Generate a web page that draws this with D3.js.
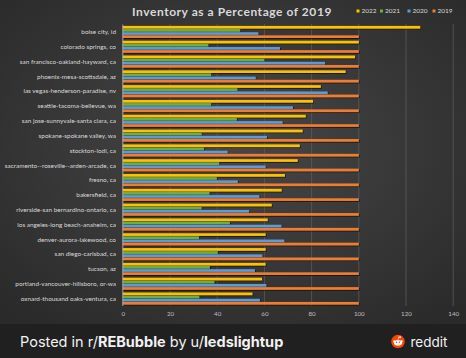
<!DOCTYPE html>
<html><head><meta charset="utf-8">
<script src="https://cdn.jsdelivr.net/npm/d3@7"></script>
<style>html,body{margin:0;padding:0;background:#222;}svg{display:block;}</style>
</head><body>
<svg id="chart" width="466" height="358"></svg>
<script>
const categories = ["boise city, id","colorado springs, co","san francisco-oakland-hayward, ca","phoenix-mesa-scottsdale, az","las vegas-henderson-paradise, nv","seattle-tacoma-bellevue, wa","san jose-sunnyvale-santa clara, ca","spokane-spokane valley, wa","stockton-lodi, ca","sacramento--roseville--arden-arcade, ca","fresno, ca","bakersfield, ca","riverside-san bernardino-ontario, ca","los angeles-long beach-anaheim, ca","denver-aurora-lakewood, co","san diego-carlsbad, ca","tucson, az","portland-vancouver-hillsboro, or-wa","oxnard-thousand oaks-ventura, ca"];
const seriesNames = ["2022","2021","2020","2019"];
const v2022 = [126,100,98.4,94.4,83.9,80.6,77.5,76.2,75,74.1,68.7,67.3,63.1,61.4,60.5,60.5,60.5,59,54.9];
const v2021 = [49.7,36.2,59.9,37.4,48.5,37.4,48.3,33.4,34.4,40.8,39.8,36.7,33.4,45.4,32.3,40.2,36.9,38.8,32.4];
const v2020 = [57.4,66.6,85.7,56.3,86.8,72.1,67.7,61.1,44.4,60.5,48.7,57.8,53.5,67.2,68.4,59.1,56,60.8,58.1];
const v2019 = [100,100,100,100,100,100,100,100,100,100,100,100,100,100,100,100,100,100,100];
const xTicks = [0,20,40,60,80,100,120,140];
const colors = ["#FFC000","#70AD47","#5B9BD5","#ED7D31"];
const title = "Inventory as a Percentage of 2019";

const values = [v2022, v2021, v2020, v2019];
const svg = d3.select("#chart");
const W = 466, H = 358;
const defs = svg.append("defs");
const rg = defs.append("radialGradient").attr("id","bg").attr("cx","50%").attr("cy","45%").attr("r","70%");
rg.append("stop").attr("offset","0%").attr("stop-color","#474747");
rg.append("stop").attr("offset","100%").attr("stop-color","#2a2a2a");
const f = defs.append("filter").attr("id","sh").attr("x","-5%").attr("y","-50%").attr("width","110%").attr("height","250%");
f.append("feDropShadow").attr("dx",0.8).attr("dy",0.8).attr("stdDeviation",0.5).attr("flood-color","#000").attr("flood-opacity",0.7);

svg.append("rect").attr("width",W).attr("height",324).attr("fill","url(#bg)");
svg.append("rect").attr("y",324).attr("width",W).attr("height",H-324).attr("fill","#202020");

const x = d3.scaleLinear().domain([0,140]).range([122.8,453.2]);
const y = d3.scaleBand().domain(categories).range([24.6,306]).paddingInner(0.15).paddingOuter(0.075);
const ys = d3.scaleBand().domain(seriesNames).range([0,y.bandwidth()]);

// gridlines
svg.append("g").selectAll("line").data(xTicks.slice(1)).join("line")
  .attr("x1",d=>x(d)).attr("x2",d=>x(d)).attr("y1",24).attr("y2",306)
  .attr("stroke","#5a5a5a").attr("stroke-width",0.8);

// bars
const g = svg.append("g").attr("filter","url(#sh)");
categories.forEach((c,i)=>{
  seriesNames.forEach((s,j)=>{
    g.append("rect").attr("x",x(0)).attr("y",y(c)+ys(s)+0.2)
      .attr("width",x(values[j][i])-x(0)).attr("height",ys.bandwidth()-0.5)
      .attr("fill",colors[j]);
  });
});

// category axis line
svg.append("line").attr("x1",x(0)).attr("x2",x(0)).attr("y1",24.6).attr("y2",306)
  .attr("stroke","#bfbfbf").attr("stroke-width",0.8);

// category labels
svg.append("g").selectAll("text").data(categories).join("text")
  .attr("x",116).attr("y",d=>y(d)+y.bandwidth()/2)
  .attr("dy","0.35em").attr("text-anchor","end")
  .attr("font-family","Lato, sans-serif").attr("font-size",6.4)
  .attr("fill","#d9d9d9").text(d=>d);

// x axis
const xa = svg.append("g").attr("transform","translate(0,306)")
  .call(d3.axisBottom(x).tickValues(xTicks).tickSize(0).tickPadding(6));
xa.select(".domain").remove();
xa.selectAll("text").attr("font-family","Lato, sans-serif").attr("font-size",6.2).attr("fill","#bfbfbf");

// title
svg.append("text").attr("x",232).attr("y",16).attr("text-anchor","middle")
  .attr("font-family","Lato, sans-serif").attr("font-weight","bold").attr("font-size",12)
  .attr("letter-spacing",0.55).attr("fill","#d9d9d9").text(title);

// legend
const legX = [356.5,380,407.5,432.5];
const lg = svg.append("g");
seriesNames.forEach((s,j)=>{
  lg.append("rect").attr("x",legX[j]).attr("y",9.5).attr("width",3).attr("height",3).attr("fill",colors[j]);
  lg.append("text").attr("x",legX[j]+5).attr("y",11).attr("dy","0.35em")
    .attr("font-family","Lato, sans-serif").attr("font-size",6.5).attr("fill","#d9d9d9").text(s);
});

// banner
const bt = svg.append("text").attr("x",20).attr("y",347)
  .attr("font-family","Inter, 'Open Sans', sans-serif").attr("font-size",14.5).attr("fill","#f2f2f2");
bt.append("tspan").text("Posted in r/");
bt.append("tspan").attr("font-weight","bold").text("REBubble");
bt.append("tspan").text(" by u/");
bt.append("tspan").attr("font-weight","bold").text("ledslightup");

// reddit logo
const lx = 398, ly = 341.5;
const logo = svg.append("g");
logo.append("circle").attr("cx",lx).attr("cy",ly).attr("r",6.8).attr("fill","#FF4500");
logo.append("ellipse").attr("cx",lx).attr("cy",ly+1.2).attr("rx",4.2).attr("ry",2.8).attr("fill","#fff");
logo.append("circle").attr("cx",lx-3.8).attr("cy",ly-0.3).attr("r",1).attr("fill","#fff");
logo.append("circle").attr("cx",lx+3.8).attr("cy",ly-0.3).attr("r",1).attr("fill","#fff");
logo.append("circle").attr("cx",lx+2.2).attr("cy",ly-4.3).attr("r",0.9).attr("fill","#fff");
logo.append("path").attr("d",`M${lx},${ly-1.6} L${lx+0.7},${ly-4.6} L${lx+2.2},${ly-4.3}`).attr("stroke","#fff").attr("stroke-width",0.6).attr("fill","none");
logo.append("circle").attr("cx",lx-1.5).attr("cy",ly+0.8).attr("r",0.7).attr("fill","#FF4500");
logo.append("circle").attr("cx",lx+1.5).attr("cy",ly+0.8).attr("r",0.7).attr("fill","#FF4500");
svg.append("text").attr("x",410.5).attr("y",346.5)
  .attr("font-family","Inter, 'Open Sans', sans-serif").attr("font-size",13.5).attr("fill","#f2f2f2").text("reddit");
</script>
</body></html>
